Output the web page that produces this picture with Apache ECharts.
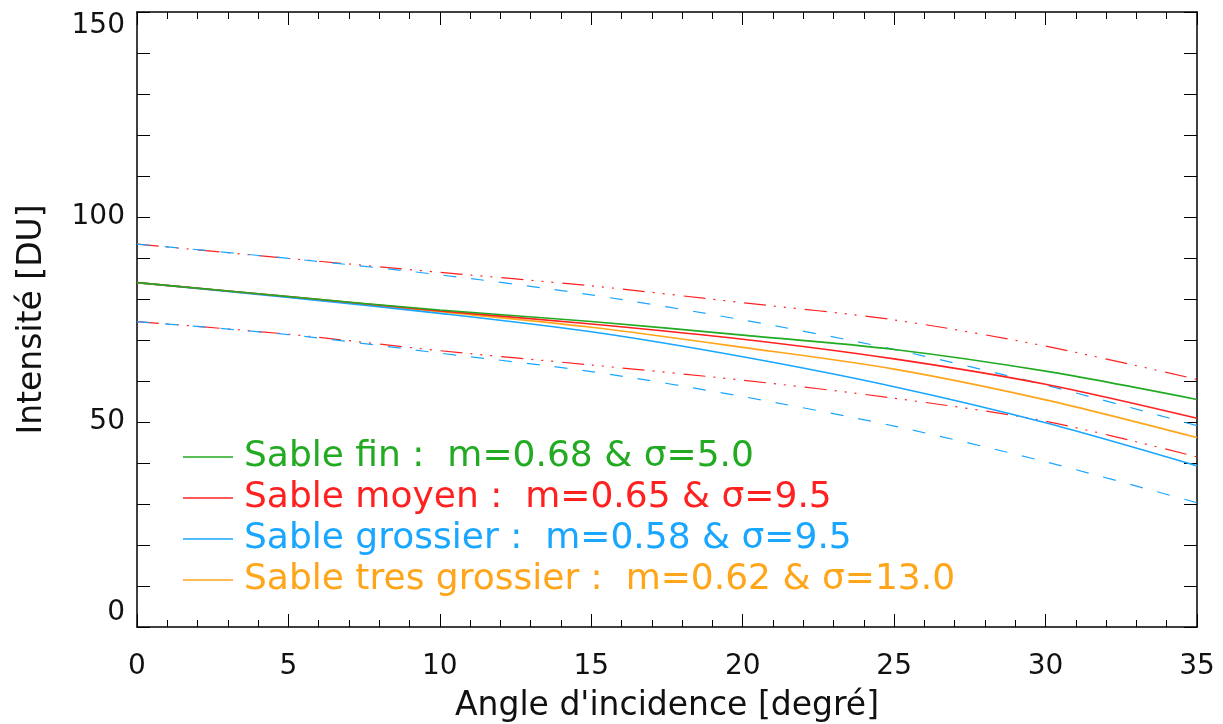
<!DOCTYPE html>
<html>
<head>
<meta charset="utf-8">
<script src="https://cdn.jsdelivr.net/npm/echarts@6/dist/echarts.min.js"></script>
<style>html,body{margin:0;padding:0;background:#fff}#c{width:1223px;height:724px}</style>
</head>
<body>
<div id="c"></div>
<script>
// Angle d'incidence [degré]
const angles = [0, 5, 10, 15, 20, 25, 30, 35];
// Solid curves
const sableFin = [84.0, 80.6, 77.3, 74.5, 71.2, 67.7, 62.4, 55.5];
const sableMoyen = [84.0, 80.6, 77.1, 73.9, 70.2, 65.4, 59.2, 50.9];
const sableGrossier = [84.0, 80.4, 76.5, 72.0, 65.9, 58.6, 49.8, 39.3];
const sableTresGrossier = [84.0, 80.5, 76.9, 73.1, 68.2, 62.9, 55.4, 46.2];
// Envelope curves
const moyenHaut = [93.4, 89.9, 86.5, 83.2, 79.1, 74.9, 68.5, 60.4];
const moyenBas = [74.5, 71.4, 67.4, 63.9, 60.2, 55.8, 50.2, 41.5];
const grossierHaut = [93.4, 89.9, 85.9, 81.0, 74.9, 67.7, 59.0, 49.1];
const grossierBas = [74.5, 71.3, 66.8, 62.3, 56.2, 49.0, 40.3, 30.3];
// Legend names
const names = [
  'Sable fin :  m=0.68 & σ=5.0',
  'Sable moyen :  m=0.65 & σ=9.5',
  'Sable grossier :  m=0.58 & σ=9.5',
  'Sable tres grossier :  m=0.62 & σ=13.0'
];

const GREEN = '#22aa22', RED = '#ff2020', BLUE = '#18a6ff', ORANGE = '#ffa51a';
const pairs = arr => angles.map((a, i) => [a, arr[i]]);
const FONT = 'DejaVu Sans';

function solid(name, arr, color) {
  return { type: 'line', name, data: pairs(arr), showSymbol: false, smooth: 0.3,
    lineStyle: { color, width: 1.6 }, itemStyle: { color }, z: 3 };
}
let dashCount = 0;
function dashed(arr, color, dash) {
  dashCount++;
  return { type: 'line', name: 'env' + dashCount, data: pairs(arr), showSymbol: false, smooth: 0.3,
    lineStyle: { color, width: 1.2, type: dash }, itemStyle: { color }, z: 2, silent: true };
}
const redDash = [22, 8, 2, 8, 2, 8, 2, 9];
const blueDash = [13, 15];

const axisCommon = {
  axisLine: { show: true, onZero: false, lineStyle: { color: '#000', width: 1.5 } },
  splitLine: { show: false }
};

const chart = echarts.init(document.getElementById('c'), null, { renderer: 'canvas' });
chart.setOption({
  backgroundColor: '#fff',
  animation: false,
  grid: { left: 137, right: 26, top: 12, bottom: 97, containLabel: false, outerBoundsMode: 'none' },
  xAxis: [
    Object.assign({ type: 'value', min: 0, max: 35, interval: 5, position: 'bottom',
      name: "Angle d'incidence [degré]", nameLocation: 'middle', nameGap: 63,
      nameTextStyle: { fontFamily: FONT, fontSize: 33, color: '#111' },
      axisTick: { show: true, inside: true, length: 13, lineStyle: { color: '#000', width: 1 } },
      minorTick: { show: true, splitNumber: 5, length: 7, lineStyle: { color: '#000', width: 1 } },
      axisLabel: { show: true, margin: 26, fontFamily: FONT, fontSize: 28, color: '#111' } }, axisCommon),
    Object.assign({ type: 'value', min: 0, max: 35, interval: 5, position: 'top',
      axisTick: { show: true, inside: true, length: 13, lineStyle: { color: '#000', width: 1 } },
      minorTick: { show: true, splitNumber: 5, length: 7, lineStyle: { color: '#000', width: 1 } },
      axisLabel: { show: false } }, axisCommon)
  ],
  yAxis: [
    Object.assign({ type: 'value', min: 0, max: 150, interval: 50, position: 'left',
      name: 'Intensité [DU]', nameLocation: 'middle', nameGap: 88, nameRotate: 90,
      nameTextStyle: { fontFamily: FONT, fontSize: 33, color: '#111' },
      axisTick: { show: true, inside: true, length: 13, lineStyle: { color: '#000', width: 1 } },
      minorTick: { show: true, splitNumber: 5, length: 13, lineStyle: { color: '#000', width: 1 } },
      axisLabel: { show: true, margin: 12, fontFamily: FONT, fontSize: 28, color: '#111',
        verticalAlignMinLabel: 'bottom', verticalAlignMaxLabel: 'top' } }, axisCommon),
    Object.assign({ type: 'value', min: 0, max: 150, interval: 50, position: 'right',
      axisTick: { show: true, inside: true, length: 13, lineStyle: { color: '#000', width: 1 } },
      minorTick: { show: true, splitNumber: 5, length: 13, lineStyle: { color: '#000', width: 1 } },
      axisLabel: { show: false } }, axisCommon)
  ],
  legend: {
    orient: 'vertical', left: 183, top: 439, itemWidth: 50, itemHeight: 1.5, itemGap: 5,
    icon: 'rect', selectedMode: false, padding: 0,
    textStyle: { fontFamily: FONT, fontSize: 36, lineHeight: 36, padding: [0, 0, 0, 6] },
    data: [
      { name: names[0], textStyle: { color: GREEN } },
      { name: names[1], textStyle: { color: RED } },
      { name: names[2], textStyle: { color: BLUE } },
      { name: names[3], textStyle: { color: ORANGE } }
    ]
  },
  series: [
    dashed(moyenHaut, RED, redDash),
    dashed(moyenBas, RED, redDash),
    dashed(grossierHaut, BLUE, blueDash),
    dashed(grossierBas, BLUE, blueDash),
    solid(names[3], sableTresGrossier, ORANGE),
    solid(names[2], sableGrossier, BLUE),
    solid(names[1], sableMoyen, RED),
    solid(names[0], sableFin, GREEN)
  ]
});
</script>
</body>
</html>
